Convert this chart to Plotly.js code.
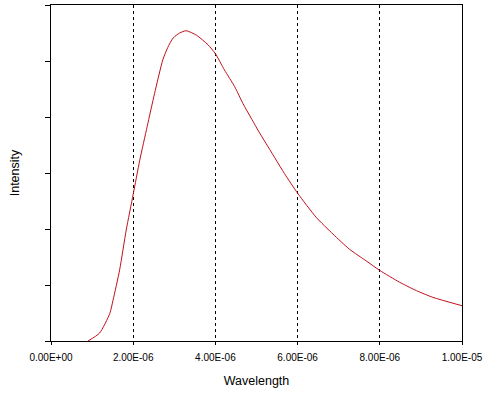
<!DOCTYPE html>
<html>
<head>
<meta charset="utf-8">
<script src="https://cdn.plot.ly/plotly-3.0.1.min.js"></script>
<style>html,body{margin:0;padding:0;background:#fff;}#chart{width:489px;height:394px;}</style>
</head>
<body>
<div id="chart"></div>
<script>
// Wavelength (micrometres, scaled to metres below) and intensity (arbitrary units)
const wavelengthUm = [0.90, 1.18, 1.43, 1.51, 1.67, 1.83, 2.00, 2.16, 2.34, 2.52, 2.72, 2.84, 2.97, 3.13, 3.29, 3.54, 3.82, 4.00, 4.22, 4.47, 4.67, 4.87, 5.08, 5.28, 5.48, 5.68, 6.00, 6.45, 6.86, 7.26, 7.67, 8.00, 8.48, 8.89, 9.29, 10.0];
const intensity    = [0.00, 0.14, 0.49, 0.73, 1.27, 1.98, 2.62, 3.23, 3.83, 4.42, 5.02, 5.24, 5.41, 5.50, 5.54, 5.46, 5.29, 5.13, 4.84, 4.54, 4.24, 3.98, 3.71, 3.47, 3.23, 2.99, 2.64, 2.21, 1.91, 1.64, 1.43, 1.26, 1.05, 0.90, 0.78, 0.63];
const xTickVals = [0, 2e-6, 4e-6, 6e-6, 8e-6, 1e-5];
const xTickText = ["0.00E+00", "2.00E-06", "4.00E-06", "6.00E-06", "8.00E-06", "1.00E-05"];
const yTickVals = [0, 1, 2, 3, 4, 5, 6];

const wavelength = wavelengthUm.map(v => v * 1e-6);

const trace = {
  x: wavelength, y: intensity, type: 'scatter', mode: 'lines',
  line: {color: '#c0101c', width: 1, shape: 'spline', smoothing: 0.6}, hoverinfo: 'skip'
};

const font = {family: 'Liberation Sans, Arial, sans-serif', color: '#000'};

const layout = {
  width: 489, height: 394,
  margin: {l: 51, r: 27, t: 5, b: 53, pad: 0},
  paper_bgcolor: '#fff', plot_bgcolor: '#fff',
  showlegend: false,
  font: font,
  xaxis: {
    range: [0, 1e-5], tickvals: xTickVals, ticktext: xTickText,
    ticks: 'outside', ticklen: 3, tickcolor: '#000', tickwidth: 1,
    ticklabelstandoff: 4,
    showline: true, linecolor: '#000', linewidth: 1, mirror: true,
    showgrid: true, gridcolor: '#000', gridwidth: 1, griddash: '3px,3px',
    zeroline: false,
    tickfont: {family: font.family, size: 10, color: '#000'},
    title: {text: 'Wavelength', font: {family: font.family, size: 12.5, color: '#000'}, standoff: 14},
    automargin: false, fixedrange: true
  },
  yaxis: {
    range: [0, 6], tickvals: yTickVals,
    ticks: 'outside', ticklen: 5, tickcolor: '#000', tickwidth: 1,
    showticklabels: false,
    showline: true, linecolor: '#000', linewidth: 1, mirror: true,
    showgrid: false, zeroline: false,
    title: {text: 'Intensity', font: {family: font.family, size: 12.5, color: '#000'}, standoff: 22},
    automargin: false, fixedrange: true
  }
};

Plotly.newPlot('chart', [trace], layout, {displayModeBar: false, staticPlot: true});
</script>
</body>
</html>
